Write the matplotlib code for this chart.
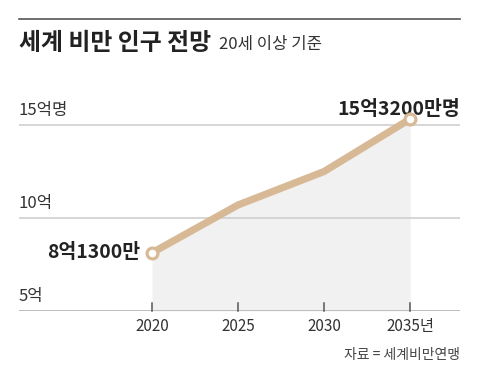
import matplotlib
matplotlib.use("Agg")
import matplotlib.pyplot as plt

plt.rcParams['font.family'] = ['Noto Sans CJK KR', 'DejaVu Sans']

years = [2020, 2025, 2030, 2035]
obese = [8.13, 10.7, 12.5, 15.32]   # 억명
year_labels = ['2020', '2025', '2030', '2035년']
y_ticks = [5, 10, 15]
y_labels = ['5억', '10억', '15억명']

line_col = '#d8b996'
W, H = 480, 379

fig = plt.figure(figsize=(W / 100, H / 100), dpi=100)
# axes box in pixels: x 19..460, y 311 (value 5) .. 106.4 (value 16)
ax = fig.add_axes([19 / W, (H - 311) / H, (460 - 19) / W, (311 - 106.4) / H])
ax.set_xlim(2012.27, 2037.9)
ax.set_ylim(5, 16)

ax.fill_between(years, obese, 5, color='#f1f1f1', lw=0, zorder=1)
ax.plot(years, obese, color=line_col, lw=5.2, solid_capstyle='butt', zorder=3)
ax.plot([years[0], years[-1]], [obese[0], obese[-1]], 'o', ms=7.8, mfc='white',
        mec=line_col, mew=2.3, zorder=4)

for v in y_ticks[1:]:
    ax.axhline(v, color='#cfcfcf', lw=1.2, zorder=2)
ax.axhline(5, color='#bdbdbd', lw=1.4, zorder=2)

for s in ax.spines.values():
    s.set_visible(False)
ax.set_xticks([])
ax.set_yticks([])

# year ticks and labels
for yr, lab in zip(years, year_labels):
    ax.plot([yr, yr], [5, 5.45], color='#555555', lw=1.1, zorder=2, clip_on=False)
    ax.text(yr, 4.15, lab, ha='center', va='center', fontsize=11, color='#333333')

# y labels sit above gridlines
for v, lab in zip(y_ticks, y_labels):
    ax.text(2012.27, v + 0.8, lab, ha='left', va='center', fontsize=12, color='#333333')

ax.text(years[-1] + 2.9, 15.85, '15억3200만명', ha='right', va='center',
        fontsize=14, fontweight='bold', color='#222222')
ax.text(years[0] - 0.7, obese[0], '8억1300만', ha='right', va='center',
        fontsize=14, fontweight='bold', color='#222222')

# header
fig.add_artist(plt.Line2D([19 / W, 460 / W], [1 - 19 / H, 1 - 19 / H],
                          color='#555555', lw=1.2))
fig.text(19 / W, 1 - 43 / H, '세계 비만 인구 전망', ha='left', va='center',
         fontsize=17.2, fontweight='bold', color='#222222')
fig.text(219 / W, 1 - 44 / H, '20세 이상 기준', ha='left', va='center',
         fontsize=12, color='#333333')
fig.text(460 / W, 1 - 355 / H, '자료 = 세계비만연맹', ha='right', va='center',
         fontsize=10, color='#444444')

fig.savefig('out.png', dpi=100, facecolor='white')
